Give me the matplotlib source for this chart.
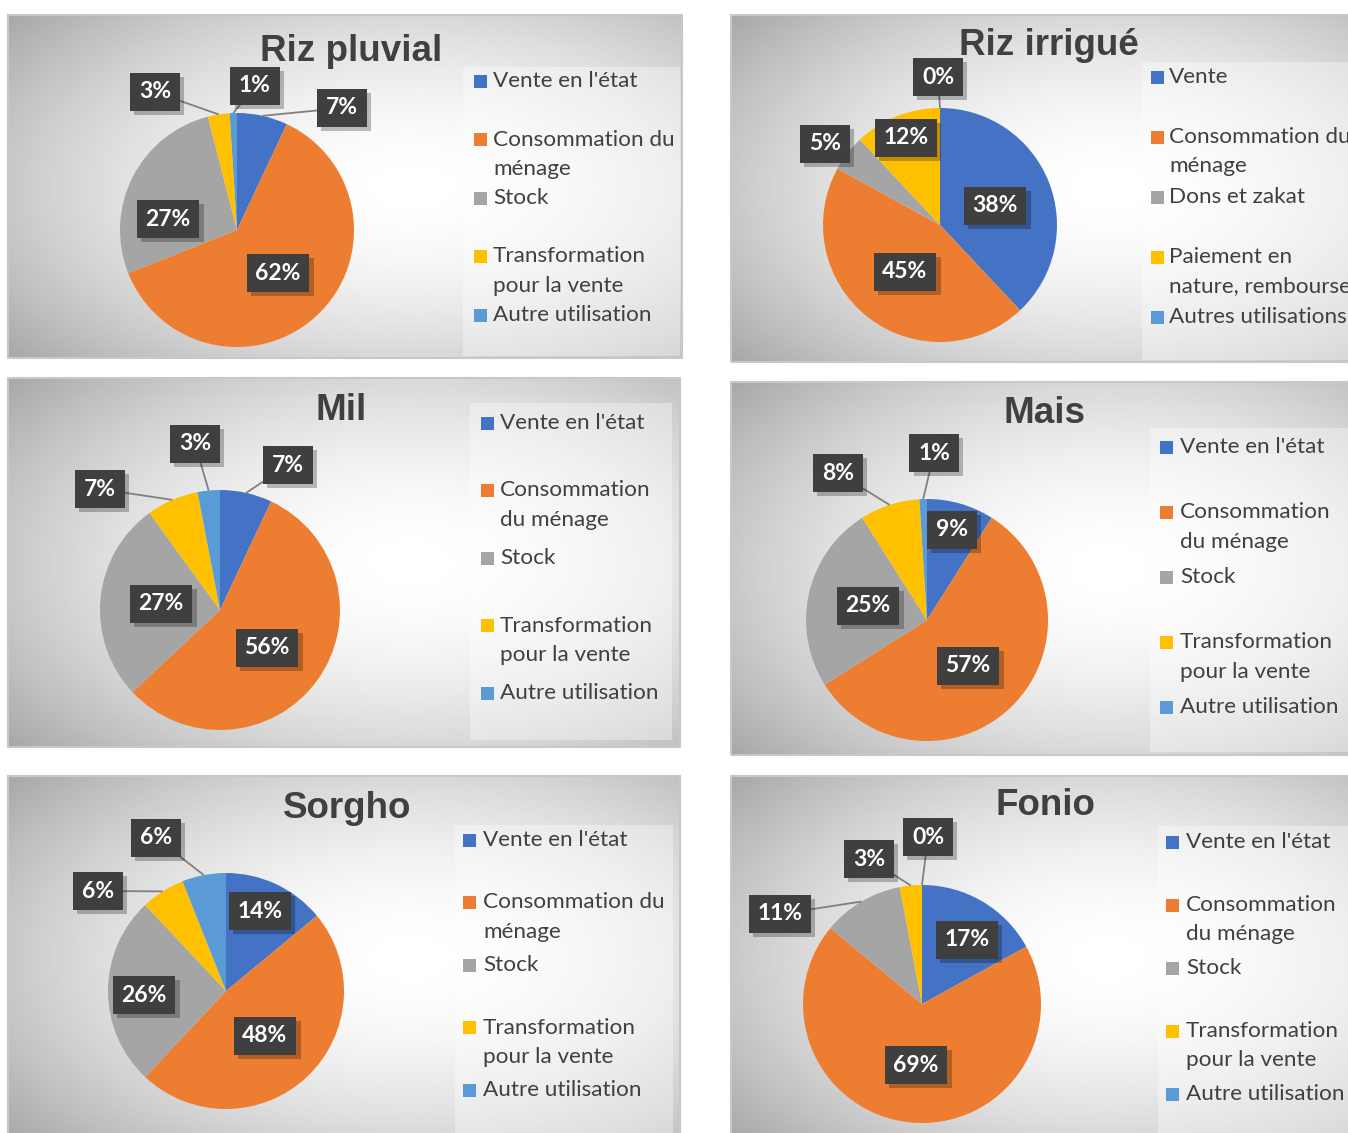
"""
Six camemberts (style Excel) : utilisation de la production par culture.
"""

import matplotlib

matplotlib.use("Agg")
import matplotlib.pyplot as plt
import matplotlib.patheffects as pe
import numpy as np
from matplotlib.patches import Rectangle

W, H = 1348, 1133  # taille de la figure en pixels (dpi=100)

COULEURS = ["#4472C4", "#ED7D31", "#A5A5A5", "#FFC000", "#5B9BD5"]
GRIS_TEXTE = "#404040"

# --- donnees (en %) : vente, consommation, stock/dons, transformation/paiement, autre
titres = ["Riz pluvial", "Riz irrigué", "Mil", "Mais", "Sorgho", "Fonio"]
riz_pluvial = [7, 62, 27, 3, 1]
riz_irrigue = [38, 45, 5, 12, 0]
mil = [7, 56, 27, 7, 3]
mais = [9, 57, 25, 8, 1]
sorgho = [14, 48, 26, 6, 6]
fonio = [17, 69, 11, 3, 0]

leg_a = ["Vente en l'état", "Consommation du\nménage", "Stock",
         "Transformation\npour la vente", "Autre utilisation"]
leg_b = ["Vente en l'état", "Consommation\ndu ménage", "Stock",
         "Transformation\npour la vente", "Autre utilisation"]
leg_irrigue = ["Vente", "Consommation du\nménage", "Dons et zakat",
               "Paiement en\nnature, remboursement", "Autres utilisations"]

valeurs = [riz_pluvial, riz_irrigue, mil, mais, sorgho, fonio]
legendes = [leg_a, leg_irrigue, leg_b, leg_b, leg_a, leg_b]

# --- mise en page (pixels, origine en haut a gauche)
panneaux = [(8, 15, 682, 358), (731, 15, 1360, 362), (8, 378, 680, 747),
            (731, 382, 1360, 755), (8, 776, 680, 1140), (731, 776, 1360, 1140)]
camemberts = [(237, 230, 117), (940, 225, 117), (220, 610, 120),
              (927, 620, 121), (226, 991, 118), (922, 1004, 119)]
pos_titres = [(351, 61), (1049, 55), (341, 420), (1044, 423), (347, 818), (1045, 815)]
# boite legende (x0, y0, x1, y1), x carre, x texte, y premiere entree, pas
legendes_pos = [
    ((463, 67, 680, 356), 474, 493, 81, 58.5),
    ((1142, 62, 1360, 360), 1151, 1169, 77, 60),
    ((470, 403, 672, 740), 481, 500, 423, 67.5),
    ((1150, 428, 1360, 752), 1160, 1180, 447, 65),
    ((455, 825, 673, 1140), 463, 483, 840, 62.5),
    ((1158, 826, 1360, 1140), 1166, 1186, 842, 63),
]
etiquettes_pos = [
    [(342, 108), (278, 273), (168, 219), (155, 92), (255, 86)],
    [(995, 206), (905, 272), (825, 144), (906, 138), (938, 77)],
    [(288, 465), (267, 648), (161, 604), (100, 489), (195, 444)],
    [(952, 530), (968, 666), (868, 606), (838, 473), (934, 453)],
    [(260, 911), (265, 1036), (144, 995), (98, 891), (156, 838)],
    [(967, 940), (916, 1065), (780, 914), (869, 859), (928, 837)],
]

FONT_TXT = ["Lato", "DejaVu Sans"]
FONT_TITRE = ["Liberation Sans", "DejaVu Sans"]


def fond_degrade(ax, x0, y0, x1, y1):
    w, h = x1 - x0, y1 - y0
    xs = np.linspace(0, 1, 200)
    ys = np.linspace(0, 1, 200)
    X, Y = np.meshgrid(xs, ys)
    t = np.sqrt(((X - 0.6) / 0.75) ** 2 + ((Y - 0.5) / 0.75) ** 2)
    v = 1 - 0.32 * np.clip(t, 0, 1.2) ** 1.8
    ax.imshow(v, cmap="gray", vmin=0, vmax=1, origin="upper",
              extent=(x0, x1, H - y1, H - y0), interpolation="bilinear",
              zorder=0, aspect="auto")
    ax.add_patch(Rectangle((x0, H - y1), w, h, fill=False, ec="#c8c8c8",
                           lw=1.5, zorder=1))


def etiquette(ax, x, y, txt):
    t = ax.text(x, H - y, txt, ha="center", va="center", fontsize=16.5,
                fontweight="bold", family=FONT_TXT, color="white", zorder=8,
                bbox=dict(boxstyle="square,pad=0.38", fc="#3f3f3f", ec="none"))
    t.get_bbox_patch().set_path_effects(
        [pe.SimplePatchShadow(offset=(3, -3), shadow_rgbFace="black", alpha=0.25),
         pe.Normal()])


fig = plt.figure(figsize=(W / 100, H / 100), dpi=100)
fig.patch.set_facecolor("white")
ax = fig.add_axes([0, 0, 1, 1])

for i in range(6):
    x0, y0, x1, y1 = panneaux[i]
    fond_degrade(ax, x0, y0, x1, y1)

    # titre
    tx, ty = pos_titres[i]
    ax.text(tx, H - ty, titres[i], ha="center", va="baseline", fontsize=26.5,
            fontweight="bold", color=GRIS_TEXTE, family=FONT_TITRE, zorder=5)

    # legende
    (lx0, ly0, lx1, ly1), mx, txx, fy, pas = legendes_pos[i]
    ax.add_patch(Rectangle((lx0, H - ly1), lx1 - lx0, ly1 - ly0, fc="white",
                           ec="none", alpha=0.35, zorder=2))
    for k, lab in enumerate(legendes[i]):
        yy = fy + k * pas
        ax.add_patch(Rectangle((mx, H - yy - 6.5), 13, 13, fc=COULEURS[k],
                               ec="none", zorder=5))
        for j, ligne in enumerate(lab.split("\n")):
            ax.text(txx, H - (yy + j * 29.5), ligne, ha="left", va="center",
                    fontsize=16.2, color=GRIS_TEXTE, family=FONT_TXT, zorder=5)

    # camembert
    cx, cy, r = camemberts[i]
    vals = valeurs[i]
    ax.pie(vals, colors=COULEURS, startangle=90, counterclock=False,
           center=(cx, H - cy), radius=r, normalize=True,
           wedgeprops=dict(linewidth=0, zorder=3))

    # etiquettes + lignes de rappel
    cum = 0
    for k, v in enumerate(vals):
        theta = np.deg2rad(90 - 360 * (cum + v / 2) / sum(vals))
        cum += v
        ex, ey = etiquettes_pos[i][k]
        px, py = cx + r * np.cos(theta), cy - r * np.sin(theta)
        if np.hypot(ex - cx, ey - cy) > r:
            ax.plot([px, ex], [H - py, H - ey], color="#808080", lw=1.3,
                    zorder=4, solid_capstyle="butt")
        etiquette(ax, ex, ey, f"{v}%")

ax.set_xlim(0, W)
ax.set_ylim(0, H)
ax.set_aspect("auto")
ax.axis("off")

fig.savefig("out.png", dpi=100)
